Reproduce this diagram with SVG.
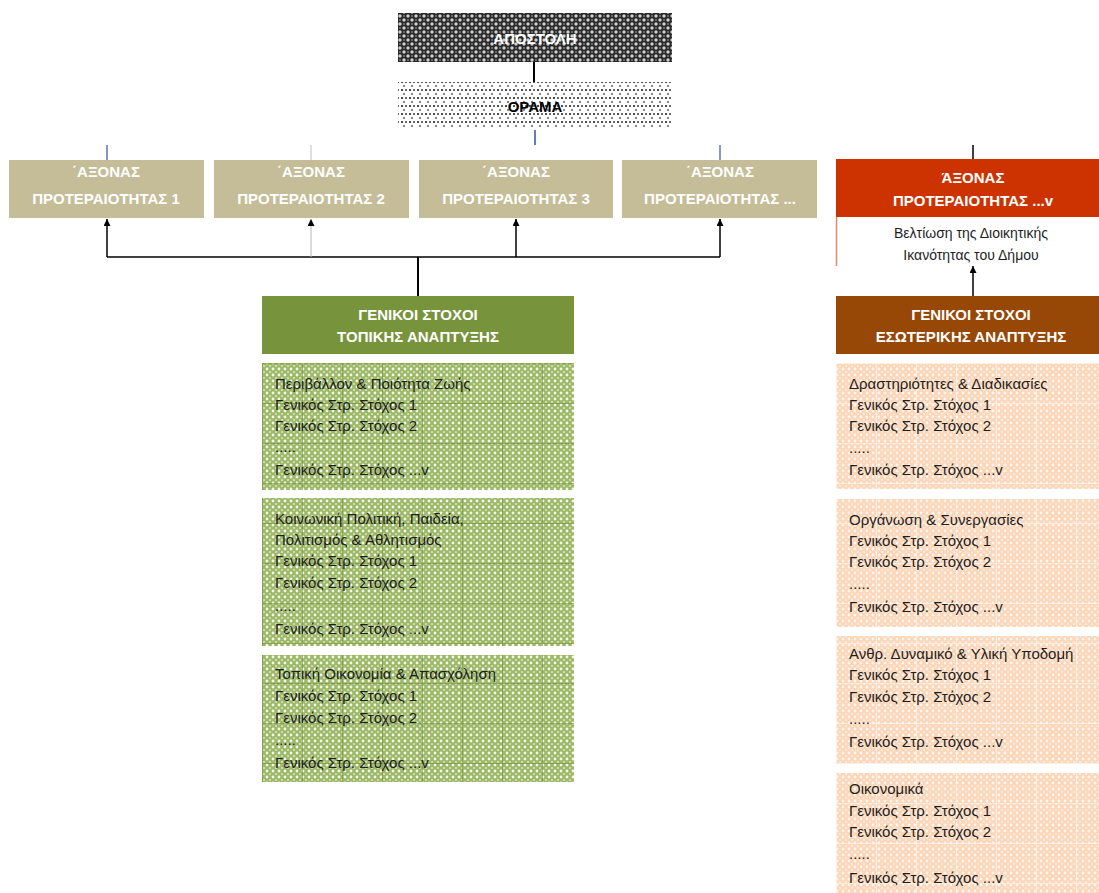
<svg xmlns="http://www.w3.org/2000/svg" width="1099" height="893" viewBox="0 0 1099 893">
<defs>
<style>
text{font-family:"Liberation Sans",Arial,sans-serif;}
.hd{font-size:15px;font-weight:bold;fill:#ffffff;text-anchor:middle;}
.bd{font-size:15px;fill:#1e1e1e;}
.sm{font-size:14px;fill:#1e1e1e;text-anchor:middle;}
.ax{fill:#c4bd97;}
.cn{stroke:#000;stroke-width:1.5;fill:none;}
</style>
<marker id="ah" viewBox="0 0 10 10" refX="10" refY="5" markerWidth="7" markerHeight="7" markerUnits="userSpaceOnUse" orient="auto">
<path d="M0,0 L10,5 L0,10 z" fill="#000"/>
</marker>
<pattern id="pDark" width="8" height="8" patternUnits="userSpaceOnUse">
<rect width="8" height="8" fill="#262626"/>
<circle cx="0" cy="0" r="1.7" fill="#d0d0d0"/>
<circle cx="8" cy="0" r="1.7" fill="#d0d0d0"/>
<circle cx="0" cy="8" r="1.7" fill="#d0d0d0"/>
<circle cx="8" cy="8" r="1.7" fill="#d0d0d0"/>
<circle cx="4" cy="4" r="1.7" fill="#d0d0d0"/>
<circle cx="4" cy="0" r="0.9" fill="#8a8a8a"/>
<circle cx="0" cy="4" r="0.9" fill="#8a8a8a"/>
<circle cx="8" cy="4" r="0.9" fill="#8a8a8a"/>
<circle cx="4" cy="8" r="0.9" fill="#8a8a8a"/>
</pattern>
<pattern id="pDot" width="8" height="8" patternUnits="userSpaceOnUse">
<rect width="8" height="8" fill="#ffffff"/>
<rect x="1" y="1" width="2" height="2" fill="#4a4a4a"/>
<rect x="5" y="1" width="2" height="2" fill="#6a6a6a"/>
<rect x="3" y="5" width="2" height="2" fill="#8a8a8a"/>
</pattern>
<pattern id="pGreen" width="6" height="6" patternUnits="userSpaceOnUse">
<rect width="6" height="6" fill="#9db868"/>
<circle cx="3" cy="3" r="1.4" fill="#f2f7e8"/>
<circle cx="0" cy="0" r="1.1" fill="#d8e5c0"/>
<circle cx="6" cy="0" r="1.1" fill="#d8e5c0"/>
<circle cx="0" cy="6" r="1.1" fill="#d8e5c0"/>
<circle cx="6" cy="6" r="1.1" fill="#d8e5c0"/>
</pattern>
<pattern id="gGreen" x="262" y="363" width="40" height="40" patternUnits="userSpaceOnUse">
<path d="M0,0.5 H40 M0.5,0 V40" stroke="#6f8f36" stroke-width="1" opacity="0.6"/>
</pattern>
<pattern id="pOrange" width="6" height="6" patternUnits="userSpaceOnUse">
<rect width="6" height="6" fill="#fcd6b8"/>
<circle cx="3" cy="3" r="1.4" fill="#fff6ef"/>
<circle cx="0" cy="0" r="1.1" fill="#fff0e5"/>
<circle cx="6" cy="0" r="1.1" fill="#fff0e5"/>
<circle cx="0" cy="6" r="1.1" fill="#fff0e5"/>
<circle cx="6" cy="6" r="1.1" fill="#fff0e5"/>
</pattern>
<pattern id="gOrange" x="836" y="363" width="40" height="40" patternUnits="userSpaceOnUse">
<path d="M0,0.5 H40 M0.5,0 V40" stroke="#fff3ea" stroke-width="1" opacity="0.8"/>
</pattern>
</defs>
<rect width="1099" height="893" fill="#ffffff"/>

<g id="connectors">
<line x1="534" y1="62" x2="534" y2="82" stroke="#000" stroke-width="2"/>
<line x1="535" y1="130" x2="535" y2="145" stroke="#2f5597" stroke-width="1.5"/>
<line x1="107" y1="145" x2="107" y2="160" stroke="#2f5597" stroke-width="1.2"/>
<line x1="311" y1="145" x2="311" y2="160" stroke="#c0c0c0" stroke-width="1"/>
<line x1="720" y1="145" x2="720" y2="160" stroke="#2f5597" stroke-width="1.2"/>
<line x1="973" y1="145" x2="973" y2="159" stroke="#000" stroke-width="1.5"/>
<line x1="107" y1="257" x2="720" y2="257" class="cn"/>
<line x1="418" y1="257" x2="418" y2="296" stroke="#000" stroke-width="2"/>
<line x1="107" y1="257" x2="107" y2="219" class="cn" marker-end="url(#ah)"/>
<line x1="311" y1="257" x2="311" y2="219" stroke="#b8b8b8" stroke-width="1" marker-end="url(#ah)"/>
<line x1="516" y1="257" x2="516" y2="219" class="cn" marker-end="url(#ah)"/>
<line x1="720" y1="257" x2="720" y2="219" class="cn" marker-end="url(#ah)"/>
<line x1="973" y1="296" x2="973" y2="266" class="cn" marker-end="url(#ah)"/>
</g>

<g id="apostoli">
<rect x="398" y="13" width="274" height="49" fill="url(#pDark)"/>
<text x="535" y="44" class="hd">ΑΠΟΣΤΟΛΗ</text>
</g>
<g id="orama">
<rect x="398" y="82" width="274" height="47" fill="url(#pDot)"/>
<text x="535" y="112" class="hd" style="fill:#000">ΟΡΑΜΑ</text>
</g>

<g id="axis1">
<rect x="9" y="160" width="195" height="58" class="ax"/>
<text x="106" y="177" class="hd">΄ΑΞΟΝΑΣ</text>
<text x="106" y="204" class="hd">ΠΡΟΤΕΡΑΙΟΤΗΤΑΣ 1</text>
</g>
<g id="axis2">
<rect x="214" y="160" width="195" height="58" class="ax"/>
<text x="311" y="177" class="hd">΄ΑΞΟΝΑΣ</text>
<text x="311" y="204" class="hd">ΠΡΟΤΕΡΑΙΟΤΗΤΑΣ 2</text>
</g>
<g id="axis3">
<rect x="419" y="160" width="194" height="58" class="ax"/>
<text x="516" y="177" class="hd">΄ΑΞΟΝΑΣ</text>
<text x="516" y="204" class="hd">ΠΡΟΤΕΡΑΙΟΤΗΤΑΣ 3</text>
</g>
<g id="axis4">
<rect x="622" y="160" width="195" height="58" class="ax"/>
<text x="720" y="177" class="hd">΄ΑΞΟΝΑΣ</text>
<text x="720" y="204" class="hd">ΠΡΟΤΕΡΑΙΟΤΗΤΑΣ ...</text>
</g>
<g id="axisN">
<rect x="836" y="159" width="263" height="58" fill="#cc3300"/>
<line x1="836.5" y1="217" x2="836.5" y2="266" stroke="#e8876a" stroke-width="1.5"/>
<text x="973" y="183" class="hd">ΆΞΟΝΑΣ</text>
<text x="973" y="206" class="hd">ΠΡΟΤΕΡΑΙΟΤΗΤΑΣ ...v</text>
<text x="971" y="238" class="sm">Βελτίωση της Διοικητικής</text>
<text x="971" y="260" class="sm">Ικανότητας  του Δήμου</text>
</g>

<g id="local-goals">
<rect x="262" y="296" width="312" height="58" fill="#77933c"/>
<text x="418" y="320" class="hd">ΓΕΝΙΚΟΙ ΣΤΟΧΟΙ</text>
<text x="418" y="342" class="hd">ΤΟΠΙΚΗΣ ΑΝΑΠΤΥΞΗΣ</text>
</g>
<g id="internal-goals">
<rect x="836" y="296" width="263" height="58" fill="#974806"/>
<text x="971" y="320" class="hd">ΓΕΝΙΚΟΙ ΣΤΟΧΟΙ</text>
<text x="971" y="342" class="hd">ΕΣΩΤΕΡΙΚΗΣ ΑΝΑΠΤΥΞΗΣ</text>
</g>

<g id="green1">
<rect x="262" y="363" width="312" height="127" fill="url(#pGreen)"/>
<rect x="262" y="363" width="312" height="127" fill="url(#gGreen)"/>
<text class="bd" x="275" y="389">Περιβάλλον &amp; Ποιότητα Ζωής</text>
<text class="bd" x="275" y="410">Γενικός Στρ. Στόχος 1</text>
<text class="bd" x="275" y="431">Γενικός Στρ. Στόχος 2</text>
<text class="bd" x="275" y="452">.....</text>
<text class="bd" x="275" y="475">Γενικός Στρ. Στόχος ...v</text>
</g>
<g id="green2">
<rect x="262" y="498" width="312" height="148" fill="url(#pGreen)"/>
<rect x="262" y="498" width="312" height="148" fill="url(#gGreen)"/>
<text class="bd" x="275" y="524">Κοινωνική Πολιτική, Παιδεία,</text>
<text class="bd" x="275" y="545">Πολιτισμός &amp; Αθλητισμός</text>
<text class="bd" x="275" y="566">Γενικός Στρ. Στόχος 1</text>
<text class="bd" x="275" y="588">Γενικός Στρ. Στόχος 2</text>
<text class="bd" x="275" y="611">.....</text>
<text class="bd" x="275" y="634">Γενικός Στρ. Στόχος ...v</text>
</g>
<g id="green3">
<rect x="262" y="655" width="312" height="127" fill="url(#pGreen)"/>
<rect x="262" y="655" width="312" height="127" fill="url(#gGreen)"/>
<text class="bd" x="275" y="679">Τοπική Οικονομία &amp; Απασχόληση</text>
<text class="bd" x="275" y="701">Γενικός Στρ. Στόχος 1</text>
<text class="bd" x="275" y="723">Γενικός Στρ. Στόχος 2</text>
<text class="bd" x="275" y="745">.....</text>
<text class="bd" x="275" y="768">Γενικός Στρ. Στόχος ...v</text>
</g>

<g id="orange1">
<rect x="836" y="363" width="263" height="126" fill="url(#pOrange)"/>
<rect x="836" y="363" width="263" height="126" fill="url(#gOrange)"/>
<text class="bd" x="849" y="389">Δραστηριότητες &amp; Διαδικασίες</text>
<text class="bd" x="849" y="410">Γενικός Στρ. Στόχος 1</text>
<text class="bd" x="849" y="431">Γενικός Στρ. Στόχος 2</text>
<text class="bd" x="849" y="453">.....</text>
<text class="bd" x="849" y="475">Γενικός Στρ. Στόχος ...v</text>
</g>
<g id="orange2">
<rect x="836" y="499" width="263" height="128" fill="url(#pOrange)"/>
<rect x="836" y="499" width="263" height="128" fill="url(#gOrange)"/>
<text class="bd" x="849" y="525">Οργάνωση &amp; Συνεργασίες</text>
<text class="bd" x="849" y="546">Γενικός Στρ. Στόχος 1</text>
<text class="bd" x="849" y="567">Γενικός Στρ. Στόχος 2</text>
<text class="bd" x="849" y="589">.....</text>
<text class="bd" x="849" y="612">Γενικός Στρ. Στόχος ...v</text>
</g>
<g id="orange3">
<rect x="836" y="636" width="263" height="128" fill="url(#pOrange)"/>
<rect x="836" y="636" width="263" height="128" fill="url(#gOrange)"/>
<text class="bd" x="849" y="659">Ανθρ. Δυναμικό &amp; Υλική Υποδομή</text>
<text class="bd" x="849" y="680">Γενικός Στρ. Στόχος 1</text>
<text class="bd" x="849" y="702">Γενικός Στρ. Στόχος 2</text>
<text class="bd" x="849" y="724">.....</text>
<text class="bd" x="849" y="747">Γενικός Στρ. Στόχος ...v</text>
</g>
<g id="orange4">
<rect x="836" y="773" width="263" height="120" fill="url(#pOrange)"/>
<rect x="836" y="773" width="263" height="120" fill="url(#gOrange)"/>
<text class="bd" x="849" y="794">Οικονομικά</text>
<text class="bd" x="849" y="816">Γενικός Στρ. Στόχος 1</text>
<text class="bd" x="849" y="837">Γενικός Στρ. Στόχος 2</text>
<text class="bd" x="849" y="859">.....</text>
<text class="bd" x="849" y="883">Γενικός Στρ. Στόχος ...v</text>
</g>
</svg>
